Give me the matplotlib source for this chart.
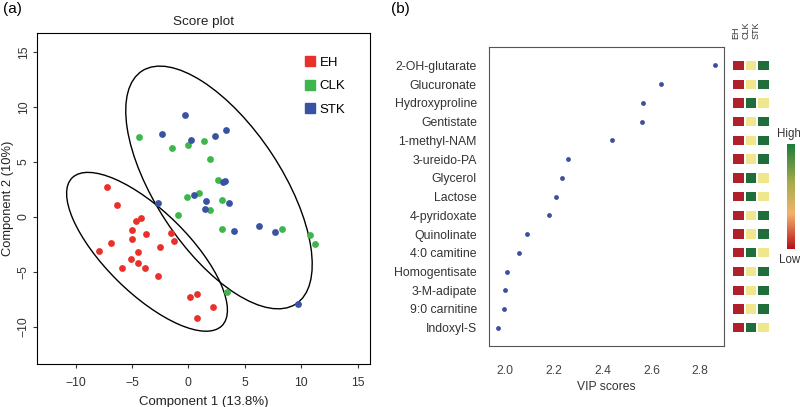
import numpy as np
import matplotlib
matplotlib.use('Agg')
import matplotlib.pyplot as plt
from matplotlib.patches import Ellipse, Rectangle
from matplotlib.colors import LinearSegmentedColormap
from matplotlib.lines import Line2D

plt.rcParams['font.family'] = ['Liberation Sans', 'DejaVu Sans']

# score plot data (component 1, component 2)
eh_x = [-7.21, -6.33, -4.21, -4.62, -5.03, -3.80, -1.50, -6.86, -4.97, -1.24, -7.92,
        -2.56, -4.50, -5.12, -4.50, -5.89, -3.86, -2.67, 0.11, 0.77, 2.18, 0.77]
eh_y = [2.68, 1.12, -0.08, -0.35, -1.20, -1.56, -1.45, -2.41, -2.05, -2.20, -3.08,
        -2.77, -3.23, -3.81, -4.23, -4.65, -4.65, -5.38, -7.26, -7.02, -8.20, -9.20]
clk_x = [-4.39, -1.44, -0.03, 1.39, 1.88, 2.65, -0.11, 0.91, 3.00, -0.94, 1.88,
         3.00, 8.30, 10.74, 11.18, 3.38]
clk_y = [7.28, 6.28, 6.55, 6.92, 5.28, 3.37, 1.83, 2.16, 1.57, 0.14, 0.66,
         -1.11, -1.11, -1.65, -2.45, -6.84]
stk_x = [-0.29, -2.32, 0.20, 2.38, 3.29, 3.20, 3.09, 0.47, 1.59, 3.62, -2.74,
         1.50, 4.00, 6.27, 7.65, 9.68]
stk_y = [9.28, 7.55, 7.01, 7.32, 7.89, 3.28, 3.14, 2.01, 1.41, 1.28, 1.24,
         0.68, -1.29, -0.81, -1.38, -7.93]

# 95% ellipses: EH, and CLK+STK together
ell_center = [(-3.67, -3.17), (2.71, 2.68)]
ell_width = [18.9, 25.2]
ell_height = [7.4, 11.2]
ell_angle = [134.5, 122.6]

# VIP data
metabolites = ['2-OH-glutarate', 'Glucuronate', 'Hydroxyproline', 'Gentistate',
               '1-methyl-NAM', '3-ureido-PA', 'Glycerol', 'Lactose', '4-pyridoxate',
               'Quinolinate', '4:0 camitine', 'Homogentisate', '3-M-adipate',
               '9:0 carnitine', 'Indoxyl-S']
vip = [2.86, 2.64, 2.566, 2.561, 2.438, 2.256, 2.234, 2.207, 2.178,
       2.088, 2.057, 2.006, 2.000, 1.996, 1.970]
groups = ['EH', 'CLK', 'STK']
# relative level per group: 0 low, 1 mid, 2 high
level_eh = [0] * 15
level_clk = [1, 1, 2, 1, 1, 1, 2, 2, 1, 1, 2, 1, 1, 1, 2]
level_stk = [2, 2, 1, 2, 2, 2, 1, 1, 2, 2, 1, 2, 2, 2, 1]

red, green, blue = '#e8312b', '#3db64b', '#3a52a3'
level_colors = ['#b0202a', '#eee78e', '#1d6e3a']

fig = plt.figure(figsize=(8, 4.07), dpi=100)

# ---- (a) score plot
ax1 = fig.add_axes([0.0466, 0.1049, 0.4159, 0.8133])
ax1.scatter(eh_x, eh_y, s=24, color=red, zorder=3, linewidths=0)
ax1.scatter(clk_x, clk_y, s=24, color=green, zorder=3, linewidths=0)
ax1.scatter(stk_x, stk_y, s=24, color=blue, zorder=3, linewidths=0)
for c, w, h, a in zip(ell_center, ell_width, ell_height, ell_angle):
    ax1.add_patch(Ellipse(c, w, h, angle=a, fill=False, color='black', lw=1.0))
ax1.set_xlim(-13.4, 16.1)
ax1.set_ylim(-13.4, 16.7)
ax1.set_xticks([-10, -5, 0, 5, 10, 15])
ax1.set_yticks([-10, -5, 0, 5, 10, 15])
ax1.set_xticklabels(['\u221210', '\u22125', '0', '5', '10', '15'])
ax1.set_yticklabels(['\u221210', '\u22125', '0', '5', '10', '15'], rotation=90, va='center')
ax1.tick_params(labelsize=8.7, length=2.9, colors='#333333')
ax1.tick_params(axis='x', pad=6)
ax1.tick_params(axis='y', pad=2.5)
ax1.set_xlabel('Component 1 (13.8%)', fontsize=9.5, color='#222222', labelpad=5)
ax1.set_ylabel('Component 2 (10%)', fontsize=9.3, color='#222222')
ax1.yaxis.set_label_coords(-0.071, 0.5)
ax1.set_title('Score plot', fontsize=9.7, color='#222222', pad=6)
handles = [Line2D([], [], marker='s', ls='', color=c, markersize=7.3) for c in (red, green, blue)]
ax1.legend(handles, groups, loc='upper left', frameon=False, fontsize=9.5,
           labelspacing=0.85, handletextpad=0.2, handlelength=1.0,
           bbox_to_anchor=(0.765, 0.965))

# ---- (b) VIP scores
ypos = np.arange(len(metabolites), 0, -1)
ax2 = fig.add_axes([0.6116, 0.1506, 0.2934, 0.7346])
ax2.scatter(vip, ypos, s=12, color='#3a4fa0', zorder=3, linewidths=0)
ax2.set_xlim(1.934, 2.897)
ax2.set_ylim(0.04, 16.0)
ax2.set_yticks(ypos)
ax2.set_yticklabels(metabolites)
ax2.set_xticks([2.0, 2.2, 2.4, 2.6, 2.8])
ax2.tick_params(axis='y', length=0, labelsize=8.8, pad=9, colors='#333333')
ax2.tick_params(axis='x', length=0, labelsize=8.7, pad=14, colors='#444444')
ax2.set_xlabel('VIP scores', fontsize=8.7, color='#333333', labelpad=3)
for s in ax2.spines.values():
    s.set_color('#555555')

# heatmap of group levels
ax3 = fig.add_axes([732 / 800, 0.1506, 37.5 / 800, 0.7346])
ax3.set_xlim(0, 3)
ax3.set_ylim(0.04, 16.0)
ax3.axis('off')
label_x = [0.28, 1.12, 1.96]
for j, lev in enumerate([level_eh, level_clk, level_stk]):
    for i, v in enumerate(lev):
        ax3.add_patch(Rectangle((j + 0.08, ypos[i] - 0.25), 0.84, 0.5,
                                color=level_colors[v], lw=0))
    ax3.text(label_x[j], 16.4, groups[j], rotation=90, ha='center', va='bottom',
             fontsize=6.5, color='#333333')

# colour bar
cmap = LinearSegmentedColormap.from_list(
    'lowhigh', [(0, '#b5121b'), (0.33, '#f4b36c'), (0.62, '#a8ad4c'), (1, '#1b7b3b')])
ax4 = fig.add_axes([787 / 800, 1 - 249.3 / 407, 8 / 800, 105.3 / 407])
ax4.imshow(np.linspace(0, 1, 100)[:, None], cmap=cmap, aspect='auto', origin='lower')
ax4.axis('off')
ax4.text(0.3, 1.04, 'High', transform=ax4.transAxes, ha='center', va='bottom', fontsize=8.3, color='#333333')
ax4.text(0.3, -0.04, 'Low', transform=ax4.transAxes, ha='center', va='top', fontsize=8.3, color='#333333')

fig.text(0.004, 0.995, '(a)', fontsize=11, va='top')
fig.text(0.489, 0.995, '(b)', fontsize=11, va='top')

fig.savefig('out.png', dpi=100)
